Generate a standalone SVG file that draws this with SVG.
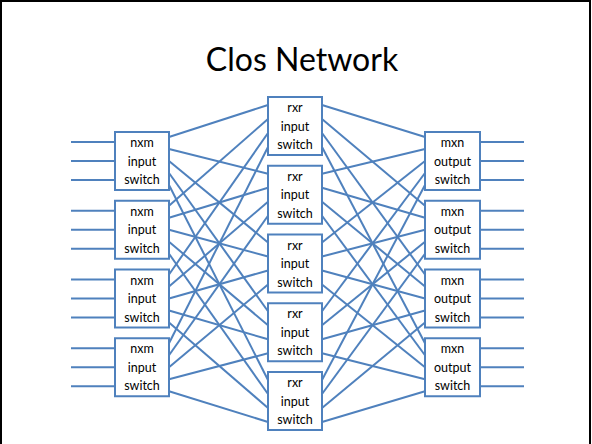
<svg xmlns="http://www.w3.org/2000/svg" width="592" height="444" viewBox="0 0 592 444">
  <style>
    .frame { fill: none; stroke: #000; stroke-width: 2; }
    .title { font-family: Lato, "Open Sans", "Liberation Sans", sans-serif; font-size: 32px; fill: #000; text-anchor: middle; }
    .box rect { fill: #fff; stroke: #4F81BD; stroke-width: 2; }
    .box text { font-family: Lato, "Open Sans", "Liberation Sans", sans-serif; font-size: 12.5px; fill: #000; text-anchor: middle; }
    .wires line { stroke: #4F81BD; stroke-width: 2; }
  </style>

  <rect class="frame" x="1" y="1" width="589" height="460"/>
  <text class="title" x="302" y="71">Clos Network</text>

  <!-- connectors: external ports, stage 1 to 2, stage 2 to 3 -->
  <g id="connectors" class="wires">
    <!-- inputs -->
    <line x1="71" y1="142" x2="115" y2="142"/><line x1="71" y1="161" x2="115" y2="161"/><line x1="71" y1="180" x2="115" y2="180"/>
    <line x1="71" y1="210.75" x2="115" y2="210.75"/><line x1="71" y1="229.75" x2="115" y2="229.75"/><line x1="71" y1="248.75" x2="115" y2="248.75"/>
    <line x1="71" y1="279.5" x2="115" y2="279.5"/><line x1="71" y1="298.5" x2="115" y2="298.5"/><line x1="71" y1="317.5" x2="115" y2="317.5"/>
    <line x1="71" y1="348.25" x2="115" y2="348.25"/><line x1="71" y1="367.25" x2="115" y2="367.25"/><line x1="71" y1="386.25" x2="115" y2="386.25"/>
    <!-- outputs -->
    <line x1="480" y1="142" x2="524" y2="142"/><line x1="480" y1="161" x2="524" y2="161"/><line x1="480" y1="180" x2="524" y2="180"/>
    <line x1="480" y1="210.75" x2="524" y2="210.75"/><line x1="480" y1="229.75" x2="524" y2="229.75"/><line x1="480" y1="248.75" x2="524" y2="248.75"/>
    <line x1="480" y1="279.5" x2="524" y2="279.5"/><line x1="480" y1="298.5" x2="524" y2="298.5"/><line x1="480" y1="317.5" x2="524" y2="317.5"/>
    <line x1="480" y1="348.25" x2="524" y2="348.25"/><line x1="480" y1="367.25" x2="524" y2="367.25"/><line x1="480" y1="386.25" x2="524" y2="386.25"/>

    <!-- input switch 1 to each middle switch -->
    <line x1="169" y1="137" x2="268" y2="105"/>
    <line x1="169" y1="149" x2="268" y2="173.75"/>
    <line x1="169" y1="161" x2="268" y2="242.5"/>
    <line x1="169" y1="173" x2="268" y2="311.25"/>
    <line x1="169" y1="185" x2="268" y2="380"/>
    <!-- input switch 2 -->
    <line x1="169" y1="205.75" x2="268" y2="119"/>
    <line x1="169" y1="217.75" x2="268" y2="187.75"/>
    <line x1="169" y1="229.75" x2="268" y2="256.5"/>
    <line x1="169" y1="241.75" x2="268" y2="325.25"/>
    <line x1="169" y1="253.75" x2="268" y2="394"/>
    <!-- input switch 3 -->
    <line x1="169" y1="274.5" x2="268" y2="133"/>
    <line x1="169" y1="286.5" x2="268" y2="201.75"/>
    <line x1="169" y1="298.5" x2="268" y2="270.5"/>
    <line x1="169" y1="310.5" x2="268" y2="339.25"/>
    <line x1="169" y1="322.5" x2="268" y2="408"/>
    <!-- input switch 4 -->
    <line x1="169" y1="343.25" x2="268" y2="147"/>
    <line x1="169" y1="355.25" x2="268" y2="215.75"/>
    <line x1="169" y1="367.25" x2="268" y2="284.5"/>
    <line x1="169" y1="379.25" x2="268" y2="353.25"/>
    <line x1="169" y1="391.25" x2="268" y2="422"/>

    <!-- middle switches to output switch 1 -->
    <line x1="322" y1="105" x2="425" y2="137"/>
    <line x1="322" y1="173.75" x2="425" y2="149"/>
    <line x1="322" y1="242.5" x2="425" y2="161"/>
    <line x1="322" y1="311.25" x2="425" y2="173"/>
    <line x1="322" y1="380" x2="425" y2="185"/>
    <!-- to output switch 2 -->
    <line x1="322" y1="119" x2="425" y2="205.75"/>
    <line x1="322" y1="187.75" x2="425" y2="217.75"/>
    <line x1="322" y1="256.5" x2="425" y2="229.75"/>
    <line x1="322" y1="325.25" x2="425" y2="241.75"/>
    <line x1="322" y1="394" x2="425" y2="253.75"/>
    <!-- to output switch 3 -->
    <line x1="322" y1="133" x2="425" y2="274.5"/>
    <line x1="322" y1="201.75" x2="425" y2="286.5"/>
    <line x1="322" y1="270.5" x2="425" y2="298.5"/>
    <line x1="322" y1="339.25" x2="425" y2="310.5"/>
    <line x1="322" y1="408" x2="425" y2="322.5"/>
    <!-- to output switch 4 -->
    <line x1="322" y1="147" x2="425" y2="343.25"/>
    <line x1="322" y1="215.75" x2="425" y2="355.25"/>
    <line x1="322" y1="284.5" x2="425" y2="367.25"/>
    <line x1="322" y1="353.25" x2="425" y2="379.25"/>
    <line x1="322" y1="422" x2="425" y2="391.25"/>
  </g>

  <!-- first stage -->
  <g id="in1" class="box"><rect x="115" y="132" width="54" height="58"/><text x="142" y="147">nxm</text><text x="142" y="165.5">input</text><text x="142" y="184">switch</text></g>
  <g id="in2" class="box"><rect x="115" y="200.75" width="54" height="58"/><text x="142" y="215.75">nxm</text><text x="142" y="234.25">input</text><text x="142" y="252.75">switch</text></g>
  <g id="in3" class="box"><rect x="115" y="269.5" width="54" height="58"/><text x="142" y="284.5">nxm</text><text x="142" y="303">input</text><text x="142" y="321.5">switch</text></g>
  <g id="in4" class="box"><rect x="115" y="338.25" width="54" height="58"/><text x="142" y="353.25">nxm</text><text x="142" y="371.75">input</text><text x="142" y="390.25">switch</text></g>

  <!-- middle stage -->
  <g id="mid1" class="box"><rect x="268" y="97" width="54" height="58"/><text x="295" y="112">rxr</text><text x="295" y="130.5">input</text><text x="295" y="149">switch</text></g>
  <g id="mid2" class="box"><rect x="268" y="165.75" width="54" height="58"/><text x="295" y="180.75">rxr</text><text x="295" y="199.25">input</text><text x="295" y="217.75">switch</text></g>
  <g id="mid3" class="box"><rect x="268" y="234.5" width="54" height="58"/><text x="295" y="249.5">rxr</text><text x="295" y="268">input</text><text x="295" y="286.5">switch</text></g>
  <g id="mid4" class="box"><rect x="268" y="303.25" width="54" height="58"/><text x="295" y="318.25">rxr</text><text x="295" y="336.75">input</text><text x="295" y="355.25">switch</text></g>
  <g id="mid5" class="box"><rect x="268" y="372" width="54" height="58"/><text x="295" y="387">rxr</text><text x="295" y="405.5">input</text><text x="295" y="424">switch</text></g>

  <!-- last stage -->
  <g id="out1" class="box"><rect x="425" y="132" width="55" height="58"/><text x="452.5" y="147">mxn</text><text x="452.5" y="165.5">output</text><text x="452.5" y="184">switch</text></g>
  <g id="out2" class="box"><rect x="425" y="200.75" width="55" height="58"/><text x="452.5" y="215.75">mxn</text><text x="452.5" y="234.25">output</text><text x="452.5" y="252.75">switch</text></g>
  <g id="out3" class="box"><rect x="425" y="269.5" width="55" height="58"/><text x="452.5" y="284.5">mxn</text><text x="452.5" y="303">output</text><text x="452.5" y="321.5">switch</text></g>
  <g id="out4" class="box"><rect x="425" y="338.25" width="55" height="58"/><text x="452.5" y="353.25">mxn</text><text x="452.5" y="371.75">output</text><text x="452.5" y="390.25">switch</text></g>
</svg>
